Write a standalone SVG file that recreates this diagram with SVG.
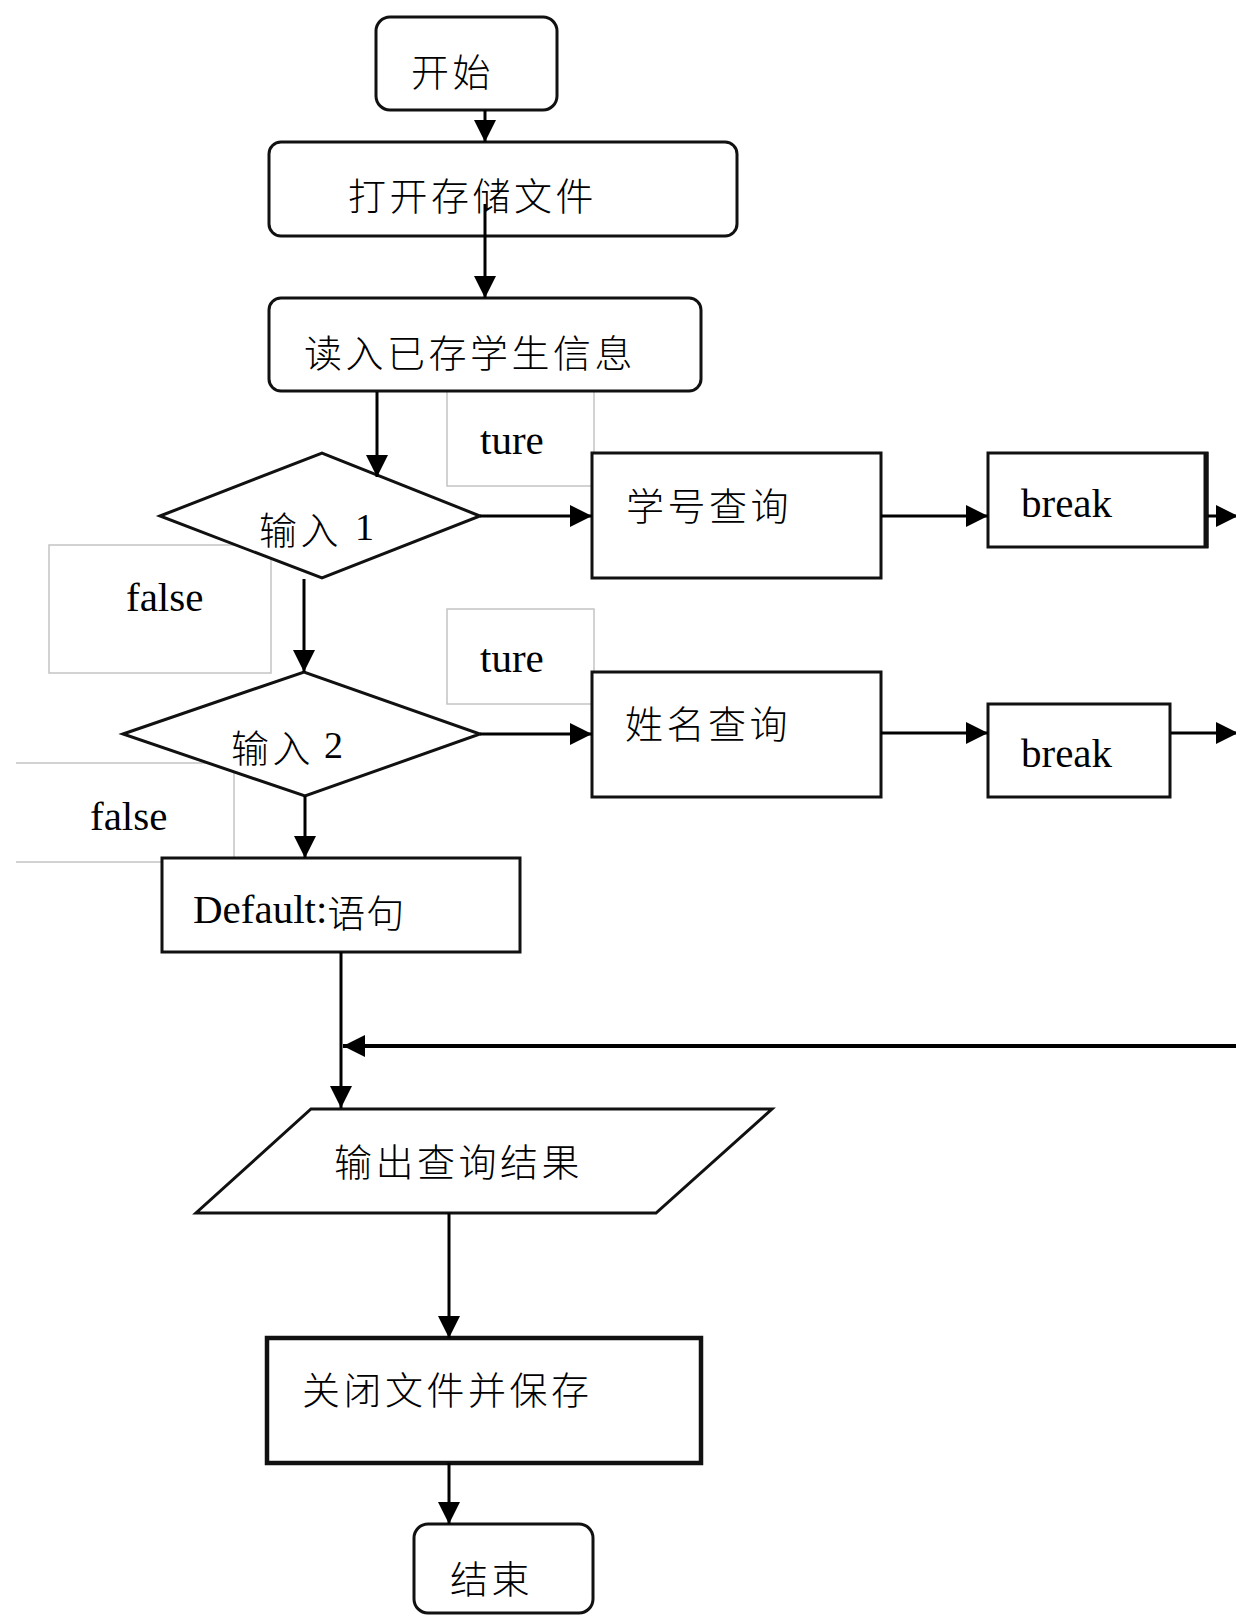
<svg xmlns="http://www.w3.org/2000/svg" width="1236" height="1615" viewBox="0 0 1236 1615">
<defs>
<marker id="arr" viewBox="0 0 22 22" refX="22" refY="11" markerWidth="22" markerHeight="22" markerUnits="userSpaceOnUse" orient="auto">
<path d="M0,0 L22,11 L0,22 z" fill="#000"/>
</marker>
<style>
.box{fill:#fff;stroke:#111;stroke-width:3}
.lbl{fill:#fff;stroke:#c4c4c4;stroke-width:1.5}
.cjk{font-family:"Noto Sans CJK SC","Liberation Serif",sans-serif;font-size:38px;font-weight:300;letter-spacing:3.5px;fill:#000;dominant-baseline:central}
.lat{font-family:"Liberation Serif",serif;font-size:41px;fill:#000}
.con{fill:none;stroke:#000;stroke-width:3;marker-end:url(#arr)}
</style>
</defs>
<rect width="1236" height="1615" fill="#fff"/>

<g id="label-ture1"><rect class="lbl" x="447" y="391" width="147" height="95"/><text class="lat" x="480" y="454">ture</text></g>
<g id="label-ture2"><rect class="lbl" x="447" y="609" width="147" height="95"/><text class="lat" x="480" y="672">ture</text></g>
<g id="label-false1"><rect class="lbl" x="49" y="545" width="222" height="128"/><text class="lat" x="126" y="611">false</text></g>
<g id="label-false2"><path class="lbl" d="M16,763 H234 V862 H16"/><text class="lat" x="90" y="830">false</text></g>

<g id="start"><rect class="box" x="376" y="17" width="181" height="93" rx="14"/><text class="cjk" x="411" y="69">开始</text></g>
<g id="open-file"><rect class="box" x="269" y="142" width="468" height="94" rx="12"/><text class="cjk" x="348" y="193">打开存储文件</text></g>
<g id="read-info"><rect class="box" x="269" y="298" width="432" height="93" rx="12"/><text class="cjk" x="304" y="350">读入已存学生信息</text></g>
<g id="input1"><polygon class="box" points="160,516 322,453 480,516 322,578"/><text class="cjk" x="259" y="527">输入<tspan font-family="Liberation Serif" font-size="38" x="355">1</tspan></text></g>
<g id="query-id"><rect class="box" x="592" y="453" width="289" height="125"/><text class="cjk" x="626" y="503">学号查询</text></g>
<g id="break1"><rect class="box" x="988" y="453" width="219" height="94"/><line x1="1206" y1="452" x2="1206" y2="548" stroke="#111" stroke-width="5"/><text class="lat" x="1021" y="517">break</text></g>
<g id="input2"><polygon class="box" points="123,734 304,672 480,734 305,796"/><text class="cjk" x="231" y="745">输入<tspan font-family="Liberation Serif" font-size="38" x="324">2</tspan></text></g>
<g id="query-name"><rect class="box" x="592" y="672" width="289" height="125"/><text class="cjk" x="625" y="721">姓名查询</text></g>
<g id="break2"><rect class="box" x="988" y="704" width="182" height="93"/><text class="lat" x="1021" y="767">break</text></g>
<g id="default"><rect class="box" x="162" y="858" width="358" height="94"/><text class="lat" x="193" y="923">Default:<tspan class="cjk" style="letter-spacing:1px" dy="-13">语句</tspan></text></g>
<g id="output"><polygon class="box" points="311,1109 772,1109 656,1213 196,1213"/><text class="cjk" x="334" y="1159">输出查询结果</text></g>
<g id="close-save"><rect class="box" x="267" y="1338" width="434" height="125" style="stroke-width:4.5"/><text class="cjk" x="302" y="1387">关闭文件并保存</text></g>
<g id="end"><rect class="box" x="414" y="1524" width="179" height="89" rx="14"/><text class="cjk" x="450" y="1576">结束</text></g>

<g id="connectors">
<path class="con" d="M485,110 V142"/>
<path class="con" d="M485,204 V298"/>
<path class="con" d="M377,392 V477"/>
<path class="con" d="M480,516 H592"/>
<path class="con" d="M881,516 H988"/>
<path class="con" d="M1208,516 H1238"/>
<path class="con" d="M304,579 V672"/>
<path class="con" d="M480,734 H592"/>
<path class="con" d="M881,733 H988"/>
<path class="con" d="M1171,733 H1238"/>
<path class="con" d="M305,796 V858"/>
<path class="con" d="M341,952 V1108"/>
<path class="con" d="M1236,1046 H343" style="stroke-width:4"/>
<path class="con" d="M449,1213 V1338"/>
<path class="con" d="M449,1463 V1524"/>
</g>
</svg>
